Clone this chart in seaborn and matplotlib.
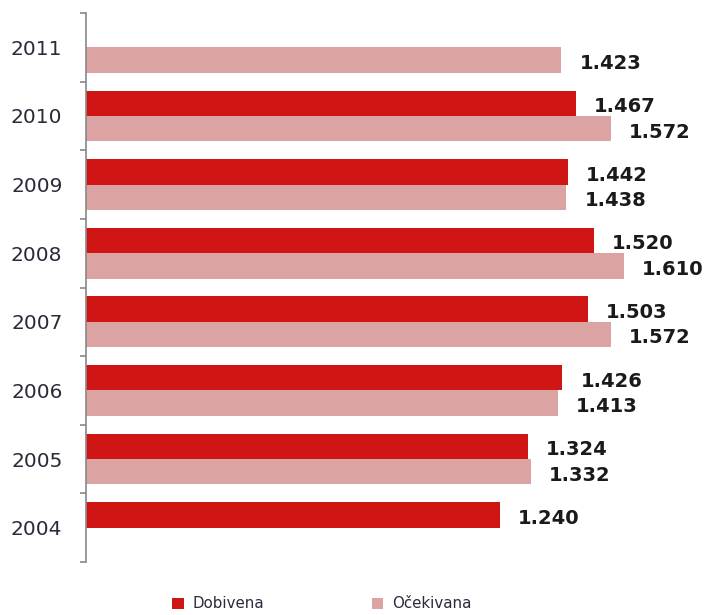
import matplotlib
matplotlib.use("Agg")
import matplotlib.pyplot as plt
import seaborn as sns
import pandas as pd
import numpy as np

years = ["2011", "2010", "2009", "2008", "2007", "2006", "2005", "2004"]
dobivena = [np.nan, 1.467, 1.442, 1.520, 1.503, 1.426, 1.324, 1.240]
ocekivana = [1.423, 1.572, 1.438, 1.610, 1.572, 1.413, 1.332, np.nan]
series = ["Dobivena", "Očekivana"]
colors = ["#d01515", "#dca3a3"]

df = pd.DataFrame({
    "year": years * 2,
    "series": [series[0]] * len(years) + [series[1]] * len(years),
    "value": dobivena + ocekivana,
})

sns.set_theme(style="white")
plt.rcParams['font.family'] = ['DejaVu Sans']

fig = plt.figure(figsize=(7.13, 6.15), dpi=100)
ax = fig.add_axes([86 / 713, 1 - 562 / 615, 614 / 713, 549 / 615])
sns.barplot(data=df, y="year", x="value", hue="series", order=years,
            hue_order=series, palette=colors, orient="h", width=0.74,
            saturation=1, linewidth=0, ax=ax, legend=True)

for cont in ax.containers:
    for bar, v in zip(cont, cont.datavalues):
        if np.isnan(v):
            continue
        ax.annotate(f"{v:.3f}", xy=(v, bar.get_y() + bar.get_height() / 2),
                    xytext=(13, -2.5), textcoords="offset points",
                    ha="left", va="center", fontsize=14, fontweight="bold",
                    color="#1a1a1a")

ax.set_xlim(0, 614 / 334)
ax.set_ylim(len(years) - 0.5, -0.5)
ax.set_xlabel("")
ax.set_ylabel("")
ax.set_xticks([])
ax.set_yticks(np.arange(-0.5, len(years), 1))
ax.set_yticklabels([])
ax.set_yticks(np.arange(len(years)), labels=years, minor=True)
ax.tick_params(axis="y", which="major", left=True, length=4.5, width=1.2, color="#888888")
ax.tick_params(axis="y", which="minor", left=False, length=0, pad=17, labelsize=14.5, labelcolor="#2a2a3a")
for s in ["top", "right", "bottom"]:
    ax.spines[s].set_visible(False)
ax.spines["left"].set_color("#888888")
ax.spines["left"].set_linewidth(1.2)

handles, labels = ax.get_legend_handles_labels()
ax.get_legend().remove()
fig.legend(handles, labels, loc="center", bbox_to_anchor=(322 / 713, 1 - 604 / 615),
           ncol=2, frameon=False, fontsize=10.8, handlelength=0.75, handleheight=0.75,
           handletextpad=0.6, columnspacing=7.2, labelcolor="#2a2a3a")

fig.savefig("out.png", dpi=100)
